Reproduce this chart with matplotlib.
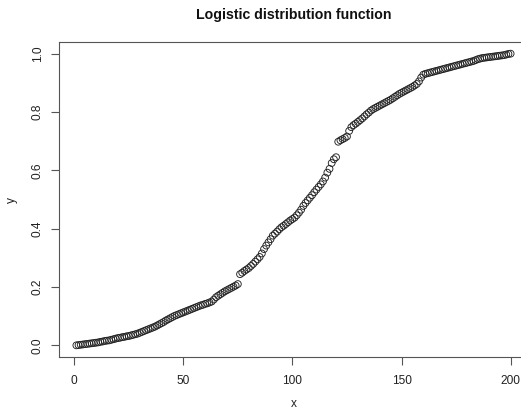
import matplotlib
matplotlib.use("Agg")
import matplotlib.pyplot as plt
import numpy as np

# Empirical logistic distribution function, one value per index
index = list(range(1, 201))
y_values = [
    0.000, 0.001, 0.002, 0.003, 0.004, 0.005, 0.006, 0.007, 0.008, 0.009,
    0.010, 0.012, 0.013, 0.015, 0.016, 0.017, 0.019, 0.021, 0.023, 0.025,
    0.026, 0.028, 0.029, 0.031, 0.032, 0.034, 0.036, 0.038, 0.040, 0.043,
    0.046, 0.049, 0.052, 0.055, 0.058, 0.061, 0.064, 0.068, 0.072, 0.076,
    0.080, 0.085, 0.089, 0.093, 0.097, 0.101, 0.104, 0.107, 0.110, 0.113,
    0.116, 0.119, 0.122, 0.125, 0.128, 0.131, 0.134, 0.137, 0.139, 0.142,
    0.144, 0.147, 0.150, 0.157, 0.165, 0.170, 0.175, 0.180, 0.185, 0.189,
    0.193, 0.197, 0.201, 0.205, 0.210, 0.244, 0.249, 0.255, 0.260, 0.265,
    0.272, 0.279, 0.287, 0.295, 0.303, 0.315, 0.330, 0.342, 0.353, 0.364,
    0.376, 0.383, 0.390, 0.398, 0.405, 0.410, 0.416, 0.422, 0.428, 0.433,
    0.438, 0.446, 0.455, 0.465, 0.478, 0.488, 0.497, 0.506, 0.515, 0.525,
    0.534, 0.543, 0.552, 0.562, 0.575, 0.592, 0.605, 0.625, 0.638, 0.645,
    0.698, 0.703, 0.707, 0.711, 0.716, 0.735, 0.748, 0.755, 0.760, 0.766,
    0.772, 0.778, 0.785, 0.792, 0.798, 0.805, 0.810, 0.814, 0.818, 0.822,
    0.826, 0.830, 0.834, 0.838, 0.842, 0.847, 0.852, 0.857, 0.862, 0.866,
    0.870, 0.874, 0.878, 0.882, 0.886, 0.891, 0.896, 0.905, 0.918, 0.928,
    0.931, 0.933, 0.935, 0.937, 0.939, 0.941, 0.943, 0.945, 0.947, 0.949,
    0.951, 0.953, 0.955, 0.957, 0.959, 0.961, 0.963, 0.965, 0.967, 0.969,
    0.971, 0.973, 0.975, 0.978, 0.981, 0.983, 0.985, 0.986, 0.987, 0.988,
    0.989, 0.990, 0.991, 0.992, 0.993, 0.994, 0.995, 0.997, 0.999, 1.000,
]
x_ticks = [0, 50, 100, 150, 200]
y_ticks = [0.0, 0.2, 0.4, 0.6, 0.8, 1.0]
y_tick_labels = ["0.0", "0.2", "0.4", "0.6", "0.8", "1.0"]

plt.rcParams["font.family"] = ["Liberation Sans", "DejaVu Sans"]

W, H = 521, 411
fig = plt.figure(figsize=(W / 100, H / 100), dpi=100)

# plot region in pixels (box extends a little past the right edge)
left, right, top, bottom = 59, 528, 42, 357
ax = fig.add_axes([left / W, (H - bottom) / H, (right - left) / W, (bottom - top) / H])

ax.scatter(index, y_values, s=24, facecolors="none", edgecolors="#222222",
           linewidths=0.65, zorder=3)

# R-style 4% padding around the data range
xmin, xmax = min(index), max(index)
dx = 0.04 * (xmax - xmin)
ax.set_xlim(xmin - dx, xmax + dx)
ymin, ymax = min(y_values), max(y_values)
dy = 0.04 * (ymax - ymin)
ax.set_ylim(ymin - dy, ymax + dy)

ax.set_xticks(x_ticks)
ax.set_xticklabels([str(t) for t in x_ticks])
ax.set_yticks(y_ticks)
ax.set_yticklabels(y_tick_labels, rotation=90, va="center")

for sp in ax.spines.values():
    sp.set_color("#555555")
    sp.set_linewidth(0.8)
ax.tick_params(axis="x", direction="out", length=6, width=0.8,
               color="#555555", labelsize=8.6, labelcolor="#222222", pad=7)
ax.tick_params(axis="y", direction="out", length=6, width=0.8,
               color="#555555", labelsize=8.6, labelcolor="#222222", pad=5)

cx = (left + right) / 2 / W
fig.text(cx, 1 - 15 / H, "Logistic distribution function",
         ha="center", va="center", fontsize=10.2, fontweight="bold", color="#111111")
fig.text(cx, 1 - 404 / H, "x", ha="center", va="center",
         fontsize=8.6, color="#222222")
fig.text(12 / W, 1 - 200 / H, "y", ha="center", va="center", rotation=90,
         fontsize=8.6, color="#222222")

fig.savefig("out.png", dpi=100)
